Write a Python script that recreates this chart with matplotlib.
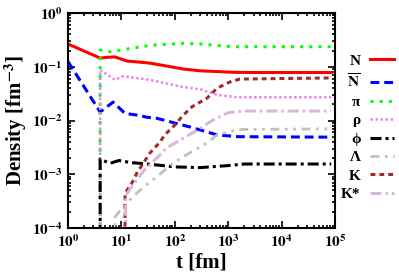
import math
import matplotlib
matplotlib.use('Agg')
import matplotlib.pyplot as plt
from matplotlib.ticker import LogLocator, FuncFormatter, NullFormatter

plt.rcParams['font.family'] = ['Liberation Serif', 'DejaVu Serif']
plt.rcParams['mathtext.fontset'] = 'stix'

# densities, t in fm
n_t = [1, 4, 5.5, 7.6, 12.7, 34, 142, 300, 1200, 3000, 85000]
n_v = [0.265, 0.145, 0.15, 0.152, 0.128, 0.117, 0.091, 0.084, 0.079, 0.078, 0.078]

nbar_t = [1, 4, 7.0, 11.7, 20, 30, 46, 190, 620, 1500, 85000]
nbar_v = [0.125, 0.0144, 0.022, 0.0135, 0.0126, 0.0115, 0.011, 0.0076, 0.0054, 0.005, 0.0049]

pi_t = [4, 4, 6.1, 16.5, 34, 142, 300, 1200, 85000]
pi_v = [1e-6, 0.205, 0.19, 0.222, 0.25, 0.273, 0.265, 0.236, 0.236]

rho_t = [4, 4, 7.6, 10.7, 34, 142, 300, 620, 1500, 85000]
rho_v = [1e-6, 0.087, 0.057, 0.067, 0.057, 0.042, 0.038, 0.030, 0.027, 0.027]

phi_t = [4, 4, 6.1, 9, 15, 30, 60, 100, 300, 1000, 2000, 85000]
phi_v = [1e-6, 1.9e-3, 1.6e-3, 1.8e-3, 1.65e-3, 1.55e-3, 1.45e-3, 1.37e-3, 1.33e-3, 1.45e-3, 1.55e-3, 1.55e-3]

lam_t = [7.2, 7.6, 10.7, 22, 46, 93, 190, 400, 620, 1500, 85000]
lam_v = [1e-6, 1.6e-4, 2.5e-4, 5e-4, 9e-4, 1.6e-3, 2.5e-3, 3.8e-3, 5.4e-3, 6.8e-3, 7.0e-3]

k_t = [11.7, 11.7, 16.7, 19.3, 34, 53, 65, 108, 135, 210, 400, 620, 1070, 1660, 85000]
k_v = [1e-6, 4.4e-4, 7.6e-4, 1.04e-3, 2.46e-3, 4e-3, 5.4e-3, 8.9e-3, 0.0118, 0.018,
       0.026, 0.040, 0.052, 0.059, 0.062]

ks_t = [12, 12, 16.5, 25, 71, 260, 520, 1000, 2000, 85000]
ks_v = [1e-6, 4e-4, 6.3e-4, 1.1e-3, 3.1e-3, 6.6e-3, 0.0102, 0.014, 0.015, 0.015]

fig = plt.figure(figsize=(3.99, 2.79), dpi=100)
ax = fig.add_axes([68 / 399, 51 / 279, 267 / 399, 215 / 279])

ax.plot(n_t, n_v, color='#ff0000', lw=2.2, label='N')
ax.plot(nbar_t, nbar_v, color='#0000ff', lw=2.2, dashes=(2.9, 1.6),
        label=r'$\overline{\mathbf{N}}$')
ax.plot(pi_t, pi_v, color='#00ff00', lw=2.2, dashes=(1, 2), label='π')
ax.plot(rho_t, rho_v, color='#ee82ee', lw=1.8, dashes=(1, 1), label='ρ')
ax.plot(phi_t, phi_v, color='black', lw=2.2, dashes=(3.6, 1.3, 1, 1.3), label='ϕ')
ax.plot(lam_t, lam_v, color='#c0c0c0', lw=2.0, dashes=(3.2, 2, 1, 2, 1, 2), label='Λ')
ax.plot(k_t, k_v, color='#a52a2a', lw=2.2, dashes=(1.6, 1.3), label='K')
ax.plot(ks_t, ks_v, color='#d8b8d8', lw=2.2, dashes=(3.6, 1.3, 0.8, 1.3), label='K*')

ax.set_xscale('log')
ax.set_yscale('log')
ax.set_xlim(1, 1e5)
ax.set_ylim(1e-4, 1)

fmt = FuncFormatter(lambda v, p: r'$\mathbf{10^{%d}}$' % round(math.log10(v)))
for axis in (ax.xaxis, ax.yaxis):
    axis.set_major_locator(LogLocator(base=10, numticks=12))
    axis.set_major_formatter(fmt)
    axis.set_minor_locator(LogLocator(base=10, subs=range(2, 10), numticks=12))
    axis.set_minor_formatter(NullFormatter())
ax.tick_params(which='both', direction='in', top=True, right=True, width=1.2,
               labelsize=11)
ax.tick_params(which='major', length=5, pad=4)
ax.tick_params(which='minor', length=2.5)
for s in ax.spines.values():
    s.set_linewidth(1.5)

ax.set_xlabel(r't [fm]', fontsize=15, fontweight='bold', labelpad=2)
ax.set_ylabel(r'Density [fm$^{\mathbf{-3}}$]', fontsize=15, fontweight='bold', labelpad=2)

ax.legend(loc='upper right', bbox_to_anchor=(394 / 399, 1 - 54 / 279),
          bbox_transform=fig.transFigure, frameon=False, markerfirst=False,
          handlelength=1.55, handletextpad=0.65, labelspacing=0.31,
          borderpad=0, borderaxespad=0,
          prop={'family': 'Liberation Serif', 'weight': 'bold', 'size': 11})

plt.savefig('out.png', dpi=100)
